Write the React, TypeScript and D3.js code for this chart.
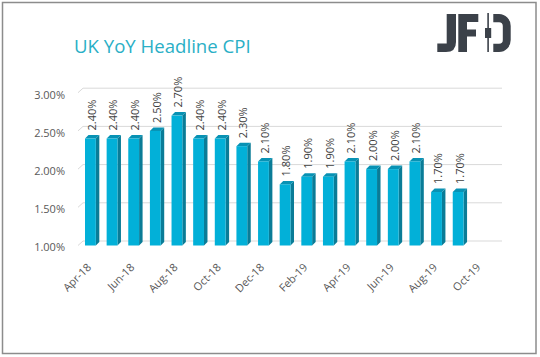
import React from "react";
import * as d3 from "d3";

const categories = [
  "Apr-18", "May-18", "Jun-18", "Jul-18", "Aug-18", "Sep-18", "Oct-18", "Nov-18", "Dec-18",
  "Jan-19", "Feb-19", "Mar-19", "Apr-19", "May-19", "Jun-19", "Jul-19", "Aug-19", "Sep-19", "Oct-19",
];
const cpiValues: (number | null)[] = [
  2.4, 2.4, 2.4, 2.5, 2.7, 2.4, 2.4, 2.3, 2.1, 1.8, 1.9, 1.9, 2.1, 2.0, 2.0, 2.1, 1.7, 1.7, null,
];
const yTicks = [1.0, 1.5, 2.0, 2.5, 3.0];
const xTickLabels = ["Apr-18", "Jun-18", "Aug-18", "Oct-18", "Dec-18", "Feb-19", "Apr-19", "Jun-19", "Aug-19", "Oct-19"];
const title = "UK YoY Headline CPI";

const W = 540;
const H = 357;
const FONT = "'Open Sans', 'Liberation Sans', sans-serif";
const DX = 3.5;
const DY = 3.5;
const BACK_DX = 5;
const BACK_DY = 4.5;

export default function App() {
  const x = d3.scaleBand<string>().domain(categories).range([79.6, 490.6]).paddingInner(0.5).paddingOuter(0.25);
  const y = d3.scaleLinear().domain([1, 3]).range([245.5, 92.7]);
  const fmt = d3.format(".2f");
  const bw = x.bandwidth();
  const gridLeft = 78;
  const gridRight = 502;

  return (
    <svg width={W} height={H} style={{ position: "absolute", left: 0, top: 0, background: "#fff" }}>
      <rect x={2.5} y={2.5} width={533.5} height={351} fill="#fff" stroke="#8C8C8C" strokeWidth={1.5} />
      <text x={74} y={53.3} fontFamily={FONT} fontSize={18.6} fill="#2AAFC6">{title}</text>

      {/* logo */}
      <g fill="#3B4149">
        <path d="M446.7,14 H456 V42 Q456,52 446,52 H437.3 V43.5 H446.7 Z" />
        <path d="M458.3,14 H478.3 V22 H467 V29.5 H476 V36.5 H467 V52 H458.3 Z" />
        <rect x={487.3} y={13} width={1.6} height={39} />
        <rect x={485} y={28} width={6.2} height={10} />
        <path d="M493.3,14 H499 A11.7,12 0 0 1 510.7,26 V40 A11.7,12 0 0 1 499,52 H493.3 V43.8 H499 A3.8,3.8 0 0 0 502.8,40 V26 A3.8,3.8 0 0 0 499,22.2 H493.3 Z" />
      </g>

      {/* gridlines */}
      <g stroke="#D9D9D9" strokeWidth={1} fill="none">
        {yTicks.map((t) => (
          <path key={t} d={`M${gridLeft},${y(t)} L${gridLeft + BACK_DX},${y(t) - BACK_DY} H${gridRight}`} />
        ))}
      </g>

      {/* y labels */}
      <g fontFamily={FONT} fontSize={11} fill="#595959" textAnchor="end">
        {yTicks.map((t) => (
          <text key={t} x={65} y={y(t) + 2} dy="0.35em">{fmt(t) + "%"}</text>
        ))}
      </g>

      {/* bars */}
      {categories.map((c, i) => {
        const v = cpiValues[i];
        if (v == null) return null;
        const x0 = x(c)!;
        const yt = y(v);
        const yb = y(1);
        return (
          <g key={c}>
            <path d={`M${x0 + bw},${yt} L${x0 + bw + DX},${yt - DY} V${yb - DY} L${x0 + bw},${yb} Z`} fill="#0A7C97" />
            <path d={`M${x0},${yt} L${x0 + DX},${yt - DY} H${x0 + bw + DX} L${x0 + bw},${yt} Z`} fill="#0892B4" />
            <rect x={x0} y={yt} width={bw} height={yb - yt} fill="#02B0D8" />
            <text
              transform={`translate(${x0 + bw / 2 + 1.5},${yt - 8}) rotate(-90)`}
              dy="0.35em"
              fontFamily={FONT}
              fontSize={11}
              fill="#404040"
            >
              {fmt(v) + "%"}
            </text>
          </g>
        );
      })}

      {/* x labels */}
      <g fontFamily={FONT} fontSize={11} fill="#595959" textAnchor="end">
        {xTickLabels.map((lab) => {
          const cx = x(lab)! + bw / 2;
          return (
            <text key={lab} transform={`translate(${cx + 1.5},${268}) rotate(-45)`}>{lab}</text>
          );
        })}
      </g>
    </svg>
  );
}
